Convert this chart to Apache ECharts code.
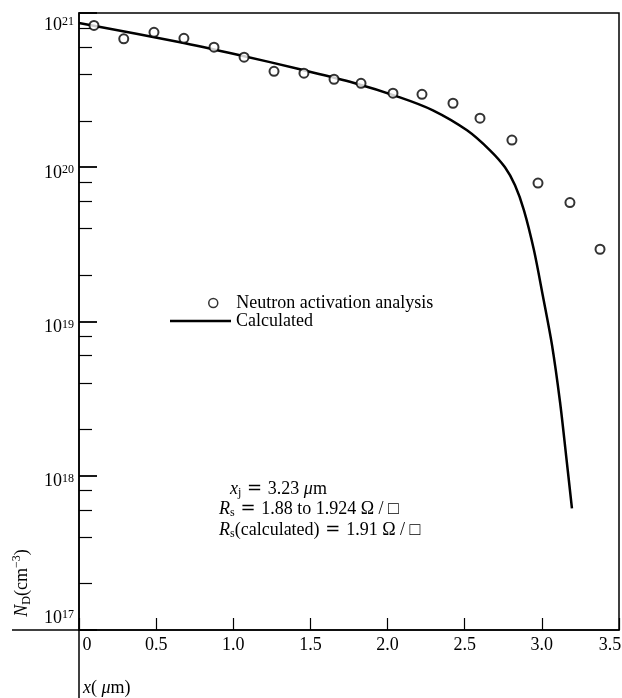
<!DOCTYPE html>
<html>
<head>
<meta charset="utf-8">
<script src="https://cdn.jsdelivr.net/npm/echarts@6/dist/echarts.min.js"></script>
<style>html,body{margin:0;padding:0;background:#fff}#c{width:622px;height:698px}</style>
</head>
<body>
<div id="c"></div>
<script>
// Measured (neutron activation analysis) points
const measuredX  = [0.097, 0.29, 0.486, 0.68, 0.875, 1.07, 1.264, 1.458, 1.653, 1.828, 2.035, 2.223, 2.424, 2.599, 2.806, 2.975, 3.182, 3.377];
const measuredND = [8.3e20, 6.8e20, 7.5e20, 6.85e20, 6.0e20, 5.17e20, 4.19e20, 4.07e20, 3.72e20, 3.5e20, 3.02e20, 2.97e20, 2.6e20, 2.08e20, 1.5e20, 7.9e19, 5.9e19, 2.94e19];
// Calculated profile
const calcX  = [0, 0.655, 1.043, 1.432, 1.756, 2.080, 2.294, 2.515, 2.664, 2.761, 2.826, 2.884, 2.949, 3.007, 3.066, 3.118, 3.157, 3.195];
const calcND = [8.6e20, 6.46e20, 5.32e20, 4.32e20, 3.58e20, 2.84e20, 2.34e20, 1.736e20, 1.288e20, 9.99e19, 7.64e19, 5.26e19, 2.894e19, 1.457e19, 7.01e18, 2.995e18, 1.357e18, 6.15e17];
// Axis ticks
const xTicks = [0, 0.5, 1.0, 1.5, 2.0, 2.5, 3.0, 3.5];
const yDecades = [17, 18, 19, 20, 21];
const yMinorMultipliers = [2, 4, 6, 8];
const seriesNames = ['Neutron activation analysis', 'Calculated'];

const FONT = "'Liberation Serif', 'DejaVu Serif', serif";
const FONT2 = "'DejaVu Serif', 'Liberation Serif', serif";
const G = {left: 79, right: 3, top: 13, bottom: 68};
const W = 622, H = 698;
const axisY = H - G.bottom;

const minorLog = [];
yDecades.slice(0, -1).forEach(e => yMinorMultipliers.forEach(m => minorLog.push(Math.log10(m * Math.pow(10, e)))));

function yLabel(v) {
  const e = Math.round(Math.log10(v));
  if (e === yDecades[0]) return '{spB|\u200a}{tB|10}{tS|' + e + '}';
  if (e === yDecades[yDecades.length - 1]) return '{spT|\u200a}\n{tB|10}{tS|' + e + '}';
  return '{spM|\u200a}\n{tB|10}{tS|' + e + '}';
}
const tx = {fontFamily: FONT, color: '#000'};

const chart = echarts.init(document.getElementById('c'), null, {renderer: 'canvas'});
chart.setOption({
  animation: false,
  backgroundColor: '#fff',
  grid: {left: G.left, right: G.right, top: G.top, bottom: G.bottom, show: true, borderColor: '#000', borderWidth: 1.5,
         containLabel: false, outerBoundsMode: 'none'},
  legend: [
    {data: [{name: seriesNames[0], icon: 'circle', itemStyle: {color: '#fff', borderColor: '#000', borderWidth: 1.5}}],
     left: 208, top: 294, orient: 'vertical', itemWidth: 36, itemHeight: 9, padding: 0, itemGap: 0,
     selectedMode: false, textStyle: {fontFamily: FONT, fontSize: 18, color: '#000'}},
    {data: [{name: seriesNames[1], icon: 'rect', itemStyle: {color: '#000', borderWidth: 0}}],
     left: 170, top: 312, orient: 'vertical', itemWidth: 61, itemHeight: 2.5, padding: 0, itemGap: 0,
     selectedMode: false, textStyle: {fontFamily: FONT, fontSize: 18, color: '#000'}}
  ],
  xAxis: {
    type: 'value', min: xTicks[0], max: xTicks[xTicks.length - 1], interval: 0.5,
    axisLine: {show: true, onZero: false, lineStyle: {color: '#000', width: 1.5}},
    axisTick: {show: true, inside: true, length: 12, lineStyle: {color: '#000', width: 1.2}},
    splitLine: {show: false},
    axisLabel: {
      margin: 6, color: '#000',
      formatter: v => v === 0 ? '{z|0}' : (v === 3.5 ? '{e|3.5}' : '{n|' + v.toFixed(1) + '}'),
      rich: {
        n: Object.assign({fontSize: 18}, tx),
        z: Object.assign({fontSize: 18, padding: [0, 0, 0, 16]}, tx),
        e: Object.assign({fontSize: 18, padding: [0, 18, 0, 0]}, tx)
      }
    }
  },
  yAxis: [
    {
      type: 'log', logBase: 10, min: 1e17, max: 1e21, interval: 1,
      axisLine: {show: true, lineStyle: {color: '#000', width: 1.5}},
      axisTick: {show: true, inside: true, length: 18, lineStyle: {color: '#000', width: 1.8}},
      minorTick: {show: false},
      splitLine: {show: false},
      axisLabel: {
        margin: 5, formatter: yLabel,
        rich: {
          spM: Object.assign({fontSize: 1, lineHeight: 14}, tx),
          spT: Object.assign({fontSize: 1, lineHeight: 26}, tx),
          spB: Object.assign({fontSize: 1, lineHeight: 42}, tx),
          tB: Object.assign({fontSize: 18, lineHeight: 20, verticalAlign: 'top'}, tx),
          tS: Object.assign({fontSize: 12, lineHeight: 10, verticalAlign: 'top'}, tx)
        }
      }
    },
    {
      type: 'value', min: yDecades[0], max: yDecades[yDecades.length - 1], position: 'left', offset: 0,
      axisLine: {show: false},
      axisTick: {show: true, inside: true, length: 13, customValues: minorLog, lineStyle: {color: '#000', width: 1.2}},
      axisLabel: {show: false},
      splitLine: {show: false}
    }
  ],
  series: [
    {
      name: seriesNames[1], type: 'line', yAxisIndex: 0,
      data: calcX.map((x, i) => [x, calcND[i]]),
      symbol: 'none', smooth: 0.3,
      lineStyle: {color: '#000', width: 2.5},
      itemStyle: {color: '#000'}, z: 2
    },
    {
      name: seriesNames[0], type: 'scatter', yAxisIndex: 0,
      data: measuredX.map((x, i) => [x, measuredND[i]]),
      symbol: 'emptyCircle', symbolSize: 9,
      itemStyle: {color: '#000', borderColor: '#000', borderWidth: 1.5}, z: 3
    }
  ],
  graphic: [
    {type: 'line', z: 10, shape: {x1: 12, y1: axisY, x2: G.left, y2: axisY}, style: {stroke: '#000', lineWidth: 1.5}},
    {type: 'line', z: 10, shape: {x1: G.left, y1: axisY, x2: G.left, y2: H}, style: {stroke: '#000', lineWidth: 1.5}},
    {type: 'text', z: 10, x: 22, y: 583, rotation: Math.PI / 2,
     style: {text: '{i|N}{sub|D}{n|(cm}{sup|−3}{n|)}', align: 'center', verticalAlign: 'middle',
       rich: {
         i: {fontSize: 18, fontStyle: 'italic', fontFamily: FONT, lineHeight: 22, fill: '#000'},
         n: {fontSize: 18, fontFamily: FONT, lineHeight: 22, fill: '#000'},
         sub: {fontSize: 12, fontFamily: FONT, lineHeight: 10, verticalAlign: 'bottom', fill: '#000'},
         sup: {fontSize: 12, fontFamily: FONT, lineHeight: 10, verticalAlign: 'top', fill: '#000'}
       }}},
    {type: 'text', z: 10, x: 83, y: 688,
     style: {text: '{i|x}{n|( }{i|μ}{n|m)}', align: 'left', verticalAlign: 'middle',
       rich: {
         i: {fontSize: 18, fontStyle: 'italic', fontFamily: FONT, fill: '#000'},
         n: {fontSize: 18, fontFamily: FONT, fill: '#000'}
       }}},
    {type: 'text', z: 10, x: 230, y: 489,
     style: {text: '{i|x}{sub|j}{eq| = }{n|3.23 }{i|μ}{n|m}', align: 'left', verticalAlign: 'middle',
       rich: {
         i: {fontSize: 18, fontStyle: 'italic', fontFamily: FONT, lineHeight: 20, fill: '#000'},
         n: {fontSize: 18, fontFamily: FONT, lineHeight: 20, fill: '#000'},
         eq: {fontSize: 18, fontFamily: FONT2, lineHeight: 20, fill: '#000'},
         sub: {fontSize: 12, fontFamily: FONT, lineHeight: 10, verticalAlign: 'bottom', fill: '#000'}
       }}},
    {type: 'text', z: 10, x: 219, y: 509,
     style: {text: '{i|R}{sub|s}{eq| = }{n|1.88 to 1.924 Ω / □}', align: 'left', verticalAlign: 'middle',
       rich: {
         i: {fontSize: 18, fontStyle: 'italic', fontFamily: FONT, lineHeight: 20, fill: '#000'},
         n: {fontSize: 18, fontFamily: FONT, lineHeight: 20, fill: '#000'},
         eq: {fontSize: 18, fontFamily: FONT2, lineHeight: 20, fill: '#000'},
         sub: {fontSize: 12, fontFamily: FONT, lineHeight: 10, verticalAlign: 'bottom', fill: '#000'}
       }}},
    {type: 'text', z: 10, x: 219, y: 530,
     style: {text: '{i|R}{sub|s}{n|(calculated)}{eq| = }{n|1.91 Ω / □}', align: 'left', verticalAlign: 'middle',
       rich: {
         i: {fontSize: 18, fontStyle: 'italic', fontFamily: FONT, lineHeight: 20, fill: '#000'},
         n: {fontSize: 18, fontFamily: FONT, lineHeight: 20, fill: '#000'},
         eq: {fontSize: 18, fontFamily: FONT2, lineHeight: 20, fill: '#000'},
         sub: {fontSize: 12, fontFamily: FONT, lineHeight: 10, verticalAlign: 'bottom', fill: '#000'}
       }}}
  ]
});
</script>
</body>
</html>
